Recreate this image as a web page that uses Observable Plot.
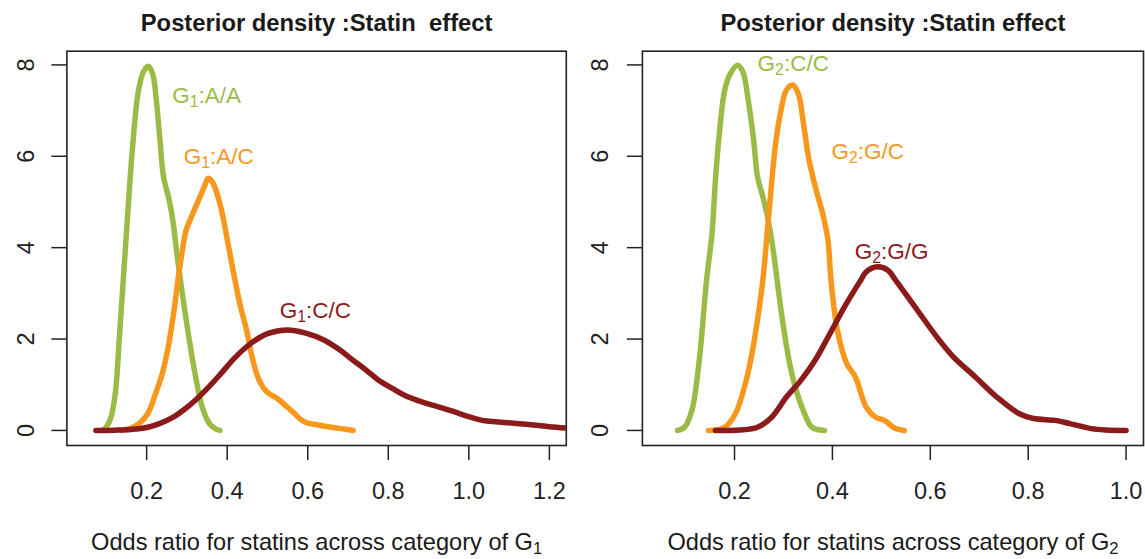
<!DOCTYPE html>
<html>
<head>
<meta charset="utf-8">
<script src="https://cdn.jsdelivr.net/npm/d3@7"></script>
<script src="https://cdn.jsdelivr.net/npm/@observablehq/plot@0.6"></script>
<style>
  html, body { margin: 0; padding: 0; background: #fff; }
  #wrap { position: relative; width: 1145px; height: 559px; overflow: hidden; background: #fff; }
  .panel { position: absolute; top: 0; }
  svg text { white-space: pre; }
</style>
</head>
<body>
<div id="wrap">
  <div class="panel" id="p1" style="left:0px"></div>
  <div class="panel" id="p2" style="left:572px"></div>
</div>
<script>
// ---------- Data ----------
const titles = ["Posterior density :Statin  effect", "Posterior density :Statin effect"];
const xTitles = ["Odds ratio for statins across category of G₁", "Odds ratio for statins across category of G₂"];
const xTicks1 = [0.2, 0.4, 0.6, 0.8, 1.0, 1.2];
const xTicks2 = [0.2, 0.4, 0.6, 0.8, 1.0];
const yTicks = [0, 2, 4, 6, 8];

// Panel 1 (G1)
const g1AA_x = [0.085, 0.095, 0.110, 0.122, 0.132, 0.142, 0.152, 0.165, 0.179, 0.192, 0.204, 0.215, 0.224, 0.233, 0.242, 0.256, 0.265, 0.274, 0.283, 0.302, 0.320, 0.338, 0.356, 0.370, 0.382];
const g1AA_y = [0, 0.03, 0.25, 0.8, 2.0, 3.3, 4.6, 6.2, 7.4, 7.85, 7.97, 7.8, 7.23, 6.36, 5.55, 5.04, 4.6, 3.95, 3.35, 2.2, 1.25, 0.51, 0.15, 0.04, 0];
const g1AC_x = [0.139, 0.166, 0.185, 0.203, 0.222, 0.239, 0.253, 0.266, 0.278, 0.288, 0.297, 0.311, 0.329, 0.343, 0.353, 0.365, 0.384, 0.402, 0.418, 0.432, 0.448, 0.462, 0.476, 0.490, 0.503, 0.517, 0.530, 0.548, 0.567, 0.580, 0.594, 0.625, 0.658, 0.690, 0.713];
const g1AC_y = [0, 0.07, 0.18, 0.37, 0.8, 1.25, 1.8, 2.5, 3.3, 3.9, 4.35, 4.67, 5.04, 5.33, 5.52, 5.41, 4.89, 4.09, 3.35, 2.75, 2.2, 1.6, 1.17, 0.93, 0.81, 0.74, 0.66, 0.52, 0.37, 0.26, 0.18, 0.12, 0.07, 0.03, 0];
const g1CC_x = [0.074, 0.12, 0.16, 0.203, 0.235, 0.266, 0.295, 0.321, 0.352, 0.385, 0.42, 0.458, 0.50, 0.549, 0.595, 0.64, 0.68, 0.712, 0.745, 0.776, 0.81, 0.84, 0.885, 0.931, 0.96, 1.004, 1.04, 1.08, 1.12, 1.16, 1.2, 1.243];
const g1CC_y = [0, 0.005, 0.02, 0.07, 0.16, 0.29, 0.47, 0.66, 0.93, 1.25, 1.6, 1.9, 2.12, 2.2, 2.13, 1.98, 1.76, 1.54, 1.32, 1.1, 0.92, 0.77, 0.62, 0.5, 0.42, 0.29, 0.21, 0.18, 0.15, 0.12, 0.08, 0.05];

// Panel 2 (G2)
const g2CC_x = [0.0835, 0.098, 0.113, 0.128, 0.143, 0.154, 0.161, 0.169, 0.180, 0.191, 0.206, 0.217, 0.228, 0.239, 0.247, 0.258, 0.269, 0.280, 0.287, 0.299, 0.314, 0.328, 0.343, 0.358, 0.384];
const g2CC_y = [0, 0.07, 0.44, 1.54, 3.3, 4.31, 5.48, 6.5, 7.45, 7.8, 7.99, 7.85, 7.23, 6.36, 5.55, 5.11, 4.6, 3.87, 3.29, 2.34, 1.39, 0.81, 0.37, 0.07, 0];
const g2GC_x = [0.147, 0.18, 0.202, 0.224, 0.236, 0.247, 0.258, 0.269, 0.284, 0.295, 0.306, 0.319, 0.33, 0.34, 0.351, 0.365, 0.38, 0.391, 0.397, 0.41, 0.429, 0.447, 0.469, 0.488, 0.506, 0.529, 0.547];
const g2GC_y = [0, 0.07, 0.37, 1.1, 1.7, 2.42, 3.3, 4.6, 6.28, 7.01, 7.45, 7.56, 7.38, 6.79, 5.99, 5.33, 4.75, 4.16, 3.3, 2.2, 1.47, 1.17, 0.51, 0.29, 0.22, 0.04, 0];
const g2GG_x = [0.161, 0.21, 0.247, 0.276, 0.306, 0.336, 0.365, 0.395, 0.425, 0.458, 0.469, 0.492, 0.514, 0.529, 0.573, 0.618, 0.647, 0.692, 0.736, 0.781, 0.811, 0.855, 0.885, 0.929, 0.96, 1.0];
const g2GG_y = [0, 0.01, 0.07, 0.29, 0.73, 1.1, 1.54, 2.12, 2.71, 3.29, 3.47, 3.58, 3.5, 3.29, 2.64, 1.98, 1.61, 1.17, 0.73, 0.37, 0.26, 0.22, 0.15, 0.04, 0.01, 0];

// Curve labels
const labels1_text = ["G₁:A/A", "G₁:A/C", "G₁:C/C"];
const labels1_x = [0.349, 0.379, 0.619];
const labels1_y = [7.33, 5.99, 2.62];
const labels2_text = ["G₂:C/C", "G₂:G/C", "G₂:G/G"];
const labels2_x = [0.320, 0.472, 0.521];
const labels2_y = [8.03, 6.10, 3.91];

const colors = ["#9bbb47", "#f7981d", "#8b1a1a"];

// ---------- Helpers ----------
const zip = (xs, ys) => xs.map((x, i) => ({x, y: ys[i]}));
const labelRows = (t, xs, ys) => t.map((s, i) => ({text: s, x: xs[i], y: ys[i], c: colors[i]}));

function makePanel({width, marginLeft, marginRight, xDomain, xTicks, series, labels, title, xTitle, yPad}) {
  return Plot.plot({
    width, height: 559,
    marginLeft, marginRight, marginTop: 50.7, marginBottom: 114,
    x: {domain: xDomain},
    y: {domain: [-0.33, 8.30]},
    style: {fontFamily: "'Liberation Sans', Arial, Helvetica, sans-serif", fontSize: "23.5px", color: "#222", background: "#fff", overflow: "visible"},
    marks: [
      ...series.map((s, i) => Plot.line(s, {x: "x", y: "y", stroke: colors[i], strokeWidth: 5.5, strokeLinecap: "round", strokeLinejoin: "round", curve: "catmull-rom", clip: "frame"})),
      Plot.frame({stroke: "#222", strokeWidth: 1.6}),
      Plot.axisX({ticks: xTicks, tickSize: 15, tickPadding: 22, tickFormat: d => d.toFixed(1), label: null, strokeWidth: 1.5, fill: "#222"}),
      Plot.axisY({ticks: yTicks, tickSize: 15, tickPadding: yPad, tickRotate: -90, textAnchor: "middle", lineAnchor: "bottom", tickFormat: d => String(d), label: null, strokeWidth: 1.5, fill: "#222"}),
      Plot.text(labels, {x: "x", y: "y", text: "text", fill: "c", fontSize: 22.5, textAnchor: "middle", lineAnchor: "middle"}),
      Plot.text([title], {frameAnchor: "top", dy: -20.7, lineAnchor: "bottom", fontWeight: "bold", fontSize: 23.8, fill: "#1a1a1a"}),
      Plot.text([xTitle], {frameAnchor: "bottom", dy: 104, lineAnchor: "bottom", fontSize: 23.6, fill: "#1a1a1a"})
    ]
  });
}

function subscripts(root) {
  root.querySelectorAll("text").forEach(t => {
    if (t.querySelector("tspan")) return;
    const s = t.textContent;
    if (!/[\u2080-\u2089]/.test(s)) return;
    const fs = parseFloat(getComputedStyle(t).fontSize) || 23;
    const shift = 0.2 * fs;
    t.textContent = "";
    const parts = s.split(/([\u2080-\u2089]+)/).filter(p => p.length);
    let lowered = false;
    const ns = "http://www.w3.org/2000/svg";
    parts.forEach(p => {
      const ts = document.createElementNS(ns, "tspan");
      if (/^[\u2080-\u2089]+$/.test(p)) {
        ts.textContent = [...p].map(ch => String.fromCharCode(ch.charCodeAt(0) - 0x2080 + 48)).join("");
        ts.setAttribute("font-size", (fs * 0.7).toFixed(2) + "px");
        ts.setAttribute("dy", shift.toFixed(2));
        lowered = true;
      } else {
        ts.textContent = p;
        if (lowered) { ts.setAttribute("dy", (-shift).toFixed(2)); lowered = false; }
      }
      t.appendChild(ts);
    });
  });
}

const p1 = makePanel({
  width: 572, marginLeft: 66.4, marginRight: 6.2,
  xDomain: [0.002, 1.242], xTicks: xTicks1,
  series: [zip(g1AA_x, g1AA_y), zip(g1AC_x, g1AC_y), zip(g1CC_x, g1CC_y)],
  labels: labelRows(labels1_text, labels1_x, labels1_y),
  title: titles[0], xTitle: xTitles[0], yPad: 18
});
const p2 = makePanel({
  width: 573, marginLeft: 69.9, marginRight: 2,
  xDomain: [0.0118, 1.0356], xTicks: xTicks2,
  series: [zip(g2CC_x, g2CC_y), zip(g2GC_x, g2GC_y), zip(g2GG_x, g2GG_y)],
  labels: labelRows(labels2_text, labels2_x, labels2_y),
  title: titles[1], xTitle: xTitles[1], yPad: 19.5
});
document.getElementById("p1").appendChild(p1);
document.getElementById("p2").appendChild(p2);
subscripts(p1);
subscripts(p2);
</script>
</body>
</html>
